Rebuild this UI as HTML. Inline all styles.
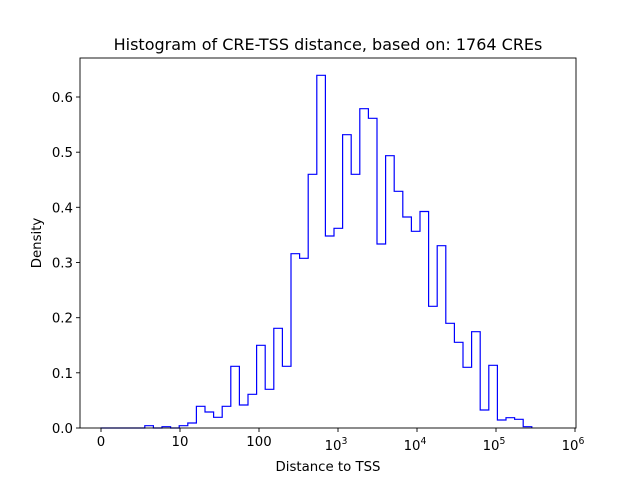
<!DOCTYPE html>
<html><head><meta charset="utf-8"><style>
body{margin:0;background:#fff}
svg{display:block}
text{font-family:"DejaVu Sans","Liberation Sans",sans-serif;fill:#000}
</style></head><body>
<svg width="640" height="480" viewBox="0 0 640 480" xmlns="http://www.w3.org/2000/svg">
<rect x="0" y="0" width="640" height="480" fill="#fff"/>
<path fill="none" stroke="#0000ff" stroke-width="1.2" d="M100.5 428 H144.8 V425.7 H153.4 V428 H162 V426.7 H170.6 V428 H179.2 V425.7 H187.8 V423 H196.4 V406.3 H205 V412 H213.6 V417.3 H222.2 V406.3 H230.8 V366.3 H239.4 V405 H248 V394.3 H256.6 V345.3 H265.2 V389.3 H273.8 V328.3 H282.4 V366.3 H291 V253.7 H299.6 V258.3 H308.2 V174.3 H316.8 V75.3 H325.4 V236 H334 V228.3 H342.6 V134.7 H351.2 V174.3 H359.8 V108.7 H368.4 V118.3 H377 V244 H385.6 V155.7 H394.2 V191.3 H402.8 V217 H411.4 V231.3 H420 V211.5 H428.6 V306.3 H437.2 V245.7 H445.8 V323.3 H454.4 V342.3 H463 V367.3 H471.6 V331.7 H480.2 V410 H488.8 V365.3 H497.4 V420 H506 V417.7 H514.6 V419.3 H523.2 V426.7 H531.8 V428"/>
<rect x="80" y="58" width="496" height="370" fill="none" stroke="#000" stroke-width="0.9"/>
<g stroke="#000" stroke-width="0.9">
<line x1="101" y1="428" x2="101" y2="432"/><line x1="180" y1="428" x2="180" y2="432"/>
<line x1="259" y1="428" x2="259" y2="432"/><line x1="338" y1="428" x2="338" y2="432"/>
<line x1="417" y1="428" x2="417" y2="432"/><line x1="496" y1="428" x2="496" y2="432"/>
<line x1="575" y1="428" x2="575" y2="432"/>
<line x1="76" y1="428" x2="80" y2="428"/><line x1="76" y1="372.8" x2="80" y2="372.8"/>
<line x1="76" y1="317.7" x2="80" y2="317.7"/><line x1="76" y1="262.5" x2="80" y2="262.5"/>
<line x1="76" y1="207.3" x2="80" y2="207.3"/><line x1="76" y1="152.2" x2="80" y2="152.2"/>
<line x1="76" y1="97" x2="80" y2="97"/>
</g>
<g font-size="13.3" text-anchor="middle">
<text x="101" y="446">0</text><text x="180" y="446">10</text><text x="259" y="446">100</text>
<text x="336" y="450">10<tspan font-size="9.3" dy="-6">3</tspan></text>
<text x="415" y="450">10<tspan font-size="9.3" dy="-6">4</tspan></text>
<text x="494" y="450">10<tspan font-size="9.3" dy="-6">5</tspan></text>
<text x="573" y="450">10<tspan font-size="9.3" dy="-6">6</tspan></text>
</g>
<g font-size="13.3" text-anchor="end">
<text x="73" y="433">0.0</text><text x="73" y="377.8">0.1</text><text x="73" y="322.7">0.2</text>
<text x="73" y="267.5">0.3</text><text x="73" y="212.3">0.4</text><text x="73" y="157.2">0.5</text>
<text x="73" y="102">0.6</text>
</g>
<text x="328" y="471" font-size="13.3" text-anchor="middle">Distance to TSS</text>
<text x="41" y="243" font-size="13.3" text-anchor="middle" transform="rotate(-90 41 243)">Density</text>
<text x="328" y="50" font-size="16" text-anchor="middle">Histogram of CRE-TSS distance, based on: 1764 CREs</text>
</svg>
</body></html>
